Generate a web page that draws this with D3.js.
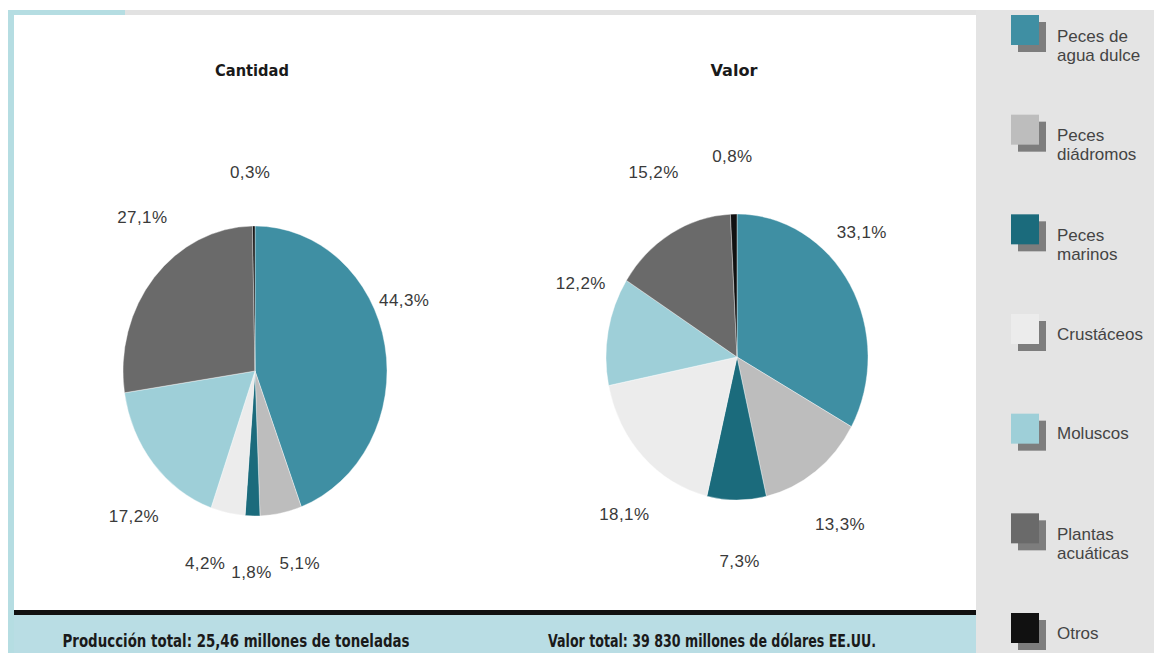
<!DOCTYPE html>
<html lang="es">
<head>
<meta charset="utf-8">
<script src="https://cdn.jsdelivr.net/npm/d3@7"></script>
<style>
  html, body { margin: 0; padding: 0; background: #ffffff; }
  svg { display: block; }
</style>
</head>
<body>
<svg id="chart" width="1154" height="653"></svg>
<script>
// Categorías de la producción acuícola
const categories = ["Peces de agua dulce", "Peces diádromos", "Peces marinos",
                    "Crustáceos", "Moluscos", "Plantas acuáticas", "Otros"];
const legendLines = [["Peces de", "agua dulce"], ["Peces", "diádromos"], ["Peces", "marinos"],
                     ["Crustáceos"], ["Moluscos"], ["Plantas", "acuáticas"], ["Otros"]];
// Porcentajes por cantidad y por valor
const cantidad = [44.3, 5.1, 1.8, 4.2, 17.2, 27.1, 0.3];
const valor    = [33.1, 13.3, 7.3, 18.1, 12.2, 15.2, 0.8];
const pieTitles = ["Cantidad", "Valor"];
const totals = ["Producción total: 25,46 millones de toneladas",
                "Valor total: 39 830 millones de dólares EE.UU."];

const colors = ["#3f8fa3", "#bdbdbd", "#1b6b7c", "#ececec", "#9ecfd8", "#6a6a6a", "#111111"];

const W = 1154, H = 653;
const svg = d3.select("#chart");
const heavy = "'DejaVu Sans', sans-serif";
const plain = "'Liberation Sans', Arial, 'DejaVu Sans', sans-serif";

// Marco de la lámina
svg.append("rect").attr("x", 0).attr("y", 0).attr("width", W).attr("height", H).attr("fill", "#ffffff");
svg.append("rect").attr("x", 8).attr("y", 10).attr("width", 968).attr("height", 5).attr("fill", "#e2e2e2");
svg.append("rect").attr("x", 8).attr("y", 10).attr("width", 117).attr("height", 5).attr("fill", "#b5dde2");
svg.append("rect").attr("x", 8).attr("y", 10).attr("width", 6).attr("height", H - 10).attr("fill", "#b5dde2");
svg.append("rect").attr("x", 976).attr("y", 10).attr("width", W - 976).attr("height", H - 10).attr("fill", "#e4e4e4");
svg.append("rect").attr("x", 14).attr("y", 615).attr("width", 962).attr("height", H - 615).attr("fill", "#b9dde4");
svg.append("rect").attr("x", 14).attr("y", 610).attr("width", 962).attr("height", 5).attr("fill", "#111111");

// Gráficos circulares
const pies = [
  { values: cantidad, cx: 255, cy: 371, ry: 145, rx: 132, titleW: 74,
    reach: [1.23, 1.37, 1.39, 1.38, 1.36, 1.36, 1.37],
    turn:  [-13, -3, 0, 4, -8, 11, -1] },
  { values: valor, cx: 737, cy: 357, ry: 143, rx: 131, titleW: 47,
    reach: [1.29, 1.41, 1.43, 1.40, 1.30, 1.44, 1.40],
    turn:  [-12, 3, -1, -8, 13, 4, 0] }
];

const pieGen = d3.pie().sort(null).value(d => d);
const fmt = v => d3.format(".1f")(v).replace(".", ",") + "%";

pies.forEach((p, pi) => {
  const sx = p.rx / p.ry;
  const arc = d3.arc().innerRadius(0).outerRadius(p.ry);
  const arcs = pieGen(p.values);

  const g = svg.append("g")
    .attr("transform", `translate(${p.cx},${p.cy}) scale(${sx},1)`);
  g.selectAll("path").data(arcs).join("path")
    .attr("d", arc)
    .attr("fill", (d, i) => colors[i])
    .attr("stroke", "#ffffff")
    .attr("stroke-width", 0.4);

  // Etiquetas de porcentaje alrededor del círculo
  svg.append("g").selectAll("text").data(arcs).join("text")
    .attr("x", (d, i) => {
      const a = (d.startAngle + d.endAngle) / 2 + p.turn[i] * Math.PI / 180;
      return p.cx + Math.sin(a) * p.ry * p.reach[i] * sx;
    })
    .attr("y", (d, i) => {
      const a = (d.startAngle + d.endAngle) / 2 + p.turn[i] * Math.PI / 180;
      return p.cy - Math.cos(a) * p.ry * p.reach[i];
    })
    .attr("text-anchor", "middle")
    .attr("dominant-baseline", "central")
    .attr("font-family", plain)
    .attr("font-size", 17)
    .attr("letter-spacing", 0.4)
    .attr("fill", "#3a3a3a")
    .text(d => fmt(d.data));

  svg.append("text")
    .attr("x", p.cx - 3)
    .attr("y", 70)
    .attr("text-anchor", "middle")
    .attr("dominant-baseline", "central")
    .attr("font-family", heavy)
    .attr("font-weight", "bold")
    .attr("font-size", 16)
    .attr("textLength", p.titleW)
    .attr("lengthAdjust", "spacingAndGlyphs")
    .attr("fill", "#1a1a1a")
    .text(pieTitles[pi]);
});

// Totales en la banda inferior, en letra estrecha
const totalX = [236, 712];
const totalW = [347, 328];
totals.forEach((t, i) => {
  svg.append("text")
    .attr("x", totalX[i])
    .attr("y", 641)
    .attr("text-anchor", "middle")
    .attr("dominant-baseline", "central")
    .attr("font-family", heavy)
    .attr("font-weight", "bold")
    .attr("font-size", 17)
    .attr("textLength", totalW[i])
    .attr("lengthAdjust", "spacingAndGlyphs")
    .attr("fill", "#1a1a1a")
    .text(t);
});

// Leyenda
const legendY = d3.scalePoint().domain(categories).range([15, 613]);
const lg = svg.append("g").selectAll("g").data(categories).join("g")
  .attr("transform", d => `translate(1011,${legendY(d)})`);
lg.append("rect").attr("x", 7).attr("y", 7).attr("width", 28).attr("height", 30).attr("fill", "#7d7d7d");
lg.append("rect").attr("x", 0).attr("y", 0).attr("width", 28).attr("height", 30)
  .attr("fill", (d, i) => colors[i]);
lg.each(function (d, i) {
  const lines = legendLines[i];
  const t = d3.select(this).append("text")
    .attr("font-family", plain)
    .attr("font-size", 17)
    .attr("fill", "#444444");
  lines.forEach((ln, k) => {
    const y = lines.length === 1 ? 20 : 21 + k * 19;
    t.append("tspan").attr("x", 46).attr("y", y)
      .attr("dominant-baseline", "central").text(ln);
  });
});
</script>
</body>
</html>
